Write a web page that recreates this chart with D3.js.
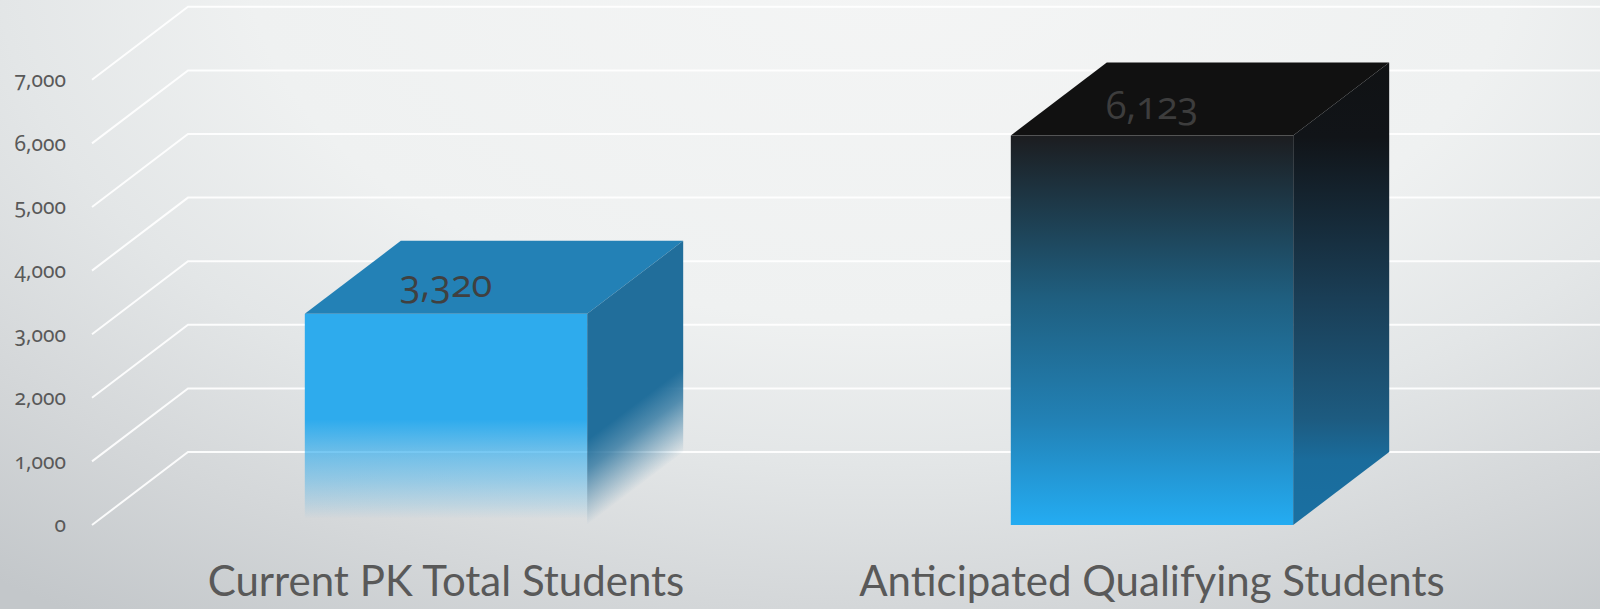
<!DOCTYPE html>
<html>
<head>
<meta charset="utf-8">
<script src="https://cdn.jsdelivr.net/npm/d3@7"></script>
<style>
    html, body { margin: 0; padding: 0; overflow: hidden; }
    #wrapper { width: 1600px; height: 609px; }
    text { font-family: Lato, "Open Sans", sans-serif; font-variant-numeric: oldstyle-nums; }
    .tick-label { font-family: "Noto Sans", sans-serif; font-feature-settings: "onum" 1; }
    .value-label { font-family: "Open Sans", sans-serif; font-feature-settings: "onum" 1; }
</style>
</head>
<body>
<div id="wrapper"></div>
<script>
const categories = ["Current PK Total Students", "Anticipated Qualifying Students"];
const students = [3320, 6123];
const tickValues = [0, 1000, 2000, 3000, 4000, 5000, 6000, 7000];

function drawChart() {
    const dimensions = {
        width: 1600,
        height: 609,
        frontLeft: 93,
        frontRight: 1505,
        floorY: 525,
        depthX: 96,
        depthY: -73
    };

    const wrapper = d3.select("#wrapper")
        .append("svg")
        .attr("width", dimensions.width)
        .attr("height", dimensions.height);

    const defs = wrapper.append("defs");

    // background: light at top middle, darker towards the bottom corners
    const bg = defs.append("radialGradient")
        .attr("id", "bg")
        .attr("gradientUnits", "userSpaceOnUse")
        .attr("cx", 880).attr("cy", -40).attr("r", 1400)
        .attr("gradientTransform", "translate(880,-40) scale(1,0.571) translate(-880,40)");
    [[0, "#f4f5f5"], [0.45, "#eff1f1"], [0.63, "#e3e6e7"], [0.81, "#d4d7d9"], [1, "#c3c7ca"]]
        .forEach(s => bg.append("stop").attr("offset", s[0]).attr("stop-color", s[1]));

    wrapper.append("rect")
        .attr("width", dimensions.width)
        .attr("height", dimensions.height)
        .attr("fill", "url(#bg)");

    const xScale = d3.scaleBand()
        .domain(categories)
        .range([dimensions.frontLeft, dimensions.frontRight])
        .paddingInner(0.6)
        .paddingOuter(0.3);

    const yScale = d3.scaleLinear()
        .domain([0, 7000])
        .range([dimensions.floorY, dimensions.floorY - 7 * 63.6]);

    const dx = dimensions.depthX;
    const dy = dimensions.depthY;

    // Gridlines: diagonal floor stub then along the back wall
    wrapper.append("g")
        .selectAll("path")
        .data(tickValues)
        .join("path")
        .attr("d", d => {
            const y = yScale(d);
            const x0 = dimensions.frontLeft - 1;
            return `M${x0},${y} L${x0 + dx},${y + dy} L${dimensions.width},${y + dy}`;
        })
        .attr("fill", "none")
        .attr("stroke", "#ffffff")
        .attr("stroke-opacity", 0.9)
        .attr("stroke-width", 2);

    // Tick labels
    wrapper.append("g")
        .selectAll("text")
        .data(tickValues)
        .join("text")
        .attr("class", "tick-label")
        .attr("x", 66)
        .attr("y", d => yScale(d))
        .attr("dy", "0.35em")
        .attr("text-anchor", "end")
        .attr("font-size", "21px")
        .attr("fill", "#595959")
        .text(d => d3.format(",")(d));

    const bw = xScale.bandwidth();
    const y0 = yScale(0);

    // Gradients for each bar
    students.forEach((v, i) => {
        const x0 = xScale(categories[i]);
        const yt = yScale(v);
        let front, side;
        if (i === 0) {
            front = defs.append("linearGradient").attr("id", "front0")
                .attr("gradientUnits", "userSpaceOnUse")
                .attr("x1", 0).attr("y1", yt).attr("x2", 0).attr("y2", y0);
            [[0, 1], [0.5, 1], [0.65, 0.65], [0.79, 0.4], [0.9, 0.17], [0.97, 0]]
                .forEach(s => front.append("stop").attr("offset", s[0])
                    .attr("stop-color", "#2eabed").attr("stop-opacity", s[1]));
            // side fade runs parallel to the floor edge
            const ax = x0 + bw, ay = y0 - 85;
            side = defs.append("linearGradient").attr("id", "side0")
                .attr("gradientUnits", "userSpaceOnUse")
                .attr("x1", ax).attr("y1", ay).attr("x2", ax + 0.6 * 68).attr("y2", ay + 0.8 * 68);
            [[0, 1], [0.35, 0.75], [1, 0]]
                .forEach(s => side.append("stop").attr("offset", s[0])
                    .attr("stop-color", "#216e9b").attr("stop-opacity", s[1]));
        } else {
            front = defs.append("linearGradient").attr("id", "front1")
                .attr("gradientUnits", "userSpaceOnUse")
                .attr("x1", 0).attr("y1", yt).attr("x2", 0).attr("y2", y0);
            [[0, "#1c1d20"], [0.42, "#1f5f80"], [0.73, "#2281b5"], [1, "#24acf2"]]
                .forEach(s => front.append("stop").attr("offset", s[0]).attr("stop-color", s[1]));
            side = defs.append("linearGradient").attr("id", "side1")
                .attr("gradientUnits", "userSpaceOnUse")
                .attr("x1", 0).attr("y1", yt + dy).attr("x2", 0).attr("y2", y0);
            [[0, "#101214"], [0.16, "#111418"], [0.51, "#1a3e56"], [0.77, "#1d5b80"], [0.86, "#1a6c9c"], [1, "#1a70a2"]]
                .forEach(s => side.append("stop").attr("offset", s[0]).attr("stop-color", s[1]));
        }
    });

    const topColors = ["#2381b6", "#111111"];
    const labelColors = ["#404040", "#3d3d3d"];

    const bars = wrapper.append("g")
        .selectAll("g")
        .data(students)
        .join("g");

    bars.append("rect")
        .attr("x", (d, i) => xScale(categories[i]))
        .attr("y", d => yScale(d))
        .attr("width", bw)
        .attr("height", d => y0 - yScale(d))
        .attr("fill", (d, i) => `url(#front${i})`);

    bars.append("path")
        .attr("d", (d, i) => {
            const x0 = xScale(categories[i]), yt = yScale(d);
            return `M${x0},${yt} L${x0 + dx},${yt + dy} L${x0 + bw + dx},${yt + dy} L${x0 + bw},${yt} Z`;
        })
        .attr("fill", (d, i) => topColors[i]);

    bars.append("path")
        .attr("d", (d, i) => {
            const x1 = xScale(categories[i]) + bw, yt = yScale(d);
            return `M${x1},${yt} L${x1 + dx},${yt + dy} L${x1 + dx},${y0 + dy} L${x1},${y0} Z`;
        })
        .attr("fill", (d, i) => `url(#side${i})`);

    // Value labels on the top faces
    bars.append("text")
        .attr("class", "value-label")
        .attr("x", (d, i) => xScale(categories[i]) + bw / 2)
        .attr("y", d => yScale(d) - 17)
        .attr("text-anchor", "middle")
        .attr("font-size", "38px")
        .attr("fill", (d, i) => labelColors[i])
        .text(d => d3.format(",")(d));

    // Category labels
    wrapper.append("g")
        .selectAll("text")
        .data(categories)
        .join("text")
        .attr("x", d => xScale(d) + bw / 2)
        .attr("y", 596)
        .attr("text-anchor", "middle")
        .attr("font-size", "42px")
        .attr("fill", "#595959")
        .text(d => d);
}

drawChart();
</script>
</body>
</html>
